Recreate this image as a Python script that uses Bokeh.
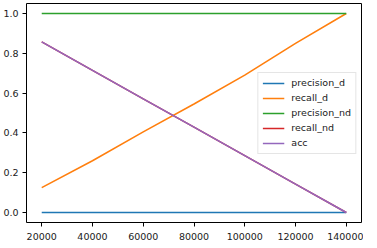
from bokeh.plotting import figure
from bokeh.models import Range1d, FixedTicker, PrintfTickFormatter, Legend, LegendItem
from bokeh.embed import file_html
from bokeh.resources import INLINE

steps = [20000, 40000, 60000, 80000, 100000, 120000, 140000]
precision_d = [0.0, 0.0, 0.0, 0.0, 0.0, 0.0, 0.0]
recall_d = [0.125, 0.26, 0.405, 0.545, 0.69, 0.85, 1.0]
precision_nd = [1.0, 1.0, 1.0, 1.0, 1.0, 1.0, 1.0]
recall_nd = [0.857, 0.714, 0.571, 0.429, 0.286, 0.143, 0.0]
acc = [0.857, 0.714, 0.571, 0.429, 0.286, 0.143, 0.0]

x_ticks = [20000, 40000, 60000, 80000, 100000, 120000, 140000]
y_ticks = [0.0, 0.2, 0.4, 0.6, 0.8, 1.0]

series = [
    ("precision_d", precision_d, "#1f77b4"),
    ("recall_d", recall_d, "#ff7f0e"),
    ("precision_nd", precision_nd, "#2ca02c"),
    ("recall_nd", recall_nd, "#d62728"),
    ("acc", acc, "#9467bd"),
]

p = figure(frame_width=335, frame_height=219, output_backend="svg", toolbar_location=None,
           x_range=Range1d(14000, 146000), y_range=Range1d(-0.05, 1.05),
           min_border_left=0, min_border_right=2, min_border_top=3, min_border_bottom=0)
p.background_fill_color = "white"
p.border_fill_color = "white"
p.outline_line_color = "black"
p.outline_line_width = 1
p.xgrid.visible = False
p.ygrid.visible = False

for ax in (p.xaxis[0], p.yaxis[0]):
    ax.axis_line_color = None
    ax.major_tick_out = 4
    ax.major_tick_in = 0
    ax.major_tick_line_color = "black"
    ax.minor_tick_line_color = None
    ax.major_label_text_font = "DejaVu Sans"
    ax.major_label_text_font_size = "9.5px"
    ax.major_label_text_color = "#1a1a1a"
    ax.major_label_standoff = 4
p.xaxis[0].major_label_standoff = 6

p.xaxis[0].ticker = FixedTicker(ticks=x_ticks)
p.yaxis[0].ticker = FixedTicker(ticks=y_ticks)
p.xaxis[0].formatter = PrintfTickFormatter(format="%d")
p.yaxis[0].formatter = PrintfTickFormatter(format="%.1f")

items = []
for name, ys, color in series:
    r = p.line(steps, ys, line_color=color, line_width=1.6)
    items.append(LegendItem(label=name, renderers=[r]))

legend = Legend(items=items, location="center_right")
legend.label_text_font = "DejaVu Sans"
legend.label_text_font_size = "9.5px"
legend.label_text_color = "#1a1a1a"
legend.glyph_width = 22
legend.glyph_height = 12
legend.label_height = 12
legend.spacing = 3
legend.padding = 4
legend.margin = 5
legend.label_standoff = 7
legend.border_line_color = "#cccccc"
legend.border_line_width = 1
legend.background_fill_alpha = 0.8
p.add_layout(legend, "center")

open("out.html", "w").write(file_html(p, INLINE))
